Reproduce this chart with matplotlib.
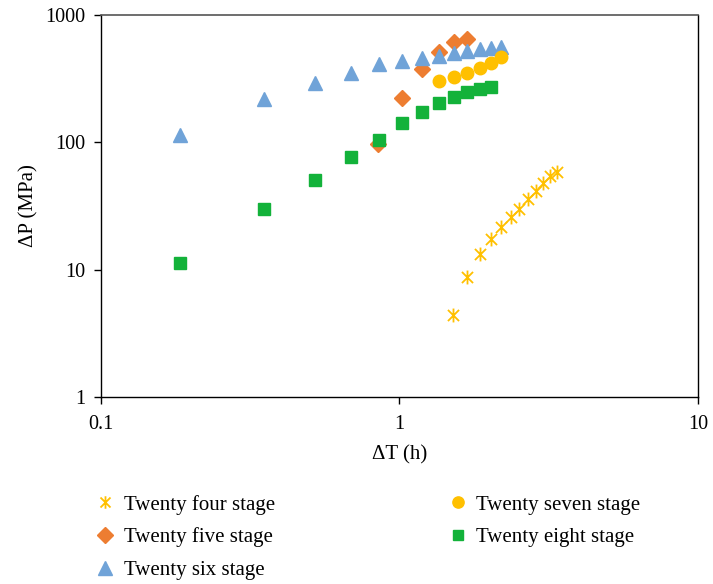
import matplotlib
matplotlib.use('Agg')
import matplotlib.pyplot as plt
from matplotlib.path import Path

plt.rcParams['font.family'] = ['Liberation Serif', 'DejaVu Serif']

# data (dT in hours, dP in MPa)
t24 = [1.51, 1.69, 1.86, 2.03, 2.19, 2.36, 2.51, 2.69, 2.86, 3.03, 3.19, 3.37]
p24 = [4.4, 8.8, 13.2, 17.4, 21.6, 25.9, 30.0, 35.9, 41.5, 48.0, 54.5, 58.0]

t25 = [0.85, 1.02, 1.19, 1.36, 1.52, 1.68]
p25 = [97, 222, 375, 515, 610, 650]

t26 = [0.184, 0.352, 0.521, 0.689, 0.854, 1.02, 1.19, 1.36, 1.52, 1.68, 1.86, 2.03, 2.19]
p26 = [114, 219, 290, 350, 410, 432, 455, 475, 500, 520, 540, 550, 560]

t27 = [1.36, 1.52, 1.68, 1.86, 2.03, 2.19]
p27 = [302, 325, 350, 383, 420, 465]

t28 = [0.184, 0.352, 0.521, 0.689, 0.854, 1.02, 1.19, 1.36, 1.52, 1.68, 1.86, 2.03]
p28 = [11.2, 30, 50.5, 76.5, 105, 142, 173, 203, 228, 248, 262, 270]

# Excel-style star: vertical bar plus an X
star = Path([(0, -1), (0, 1), (-0.8, -0.8), (0.8, 0.8), (-0.8, 0.8), (0.8, -0.8)],
            [Path.MOVETO, Path.LINETO, Path.MOVETO, Path.LINETO, Path.MOVETO, Path.LINETO])

fig = plt.figure(figsize=(7.13, 5.84), dpi=100)
ax = fig.add_axes([0.1415, 0.3202, 0.8375, 0.6543])

ax.plot(t24, p24, linestyle='none', marker=star, markersize=10, markerfacecolor='none',
        markeredgecolor='#FFC000', markeredgewidth=1.3, label='Twenty four stage')
ax.plot(t25, p25, linestyle='none', marker='D', markersize=8.5, color='#ED7D31',
        label='Twenty five stage')
ax.plot(t26, p26, linestyle='none', marker='^', markersize=10.5, color='#70A3D8',
        label='Twenty six stage')
ax.plot(t27, p27, linestyle='none', marker='o', markersize=9, color='#FFC000',
        label='Twenty seven stage')
ax.plot(t28, p28, linestyle='none', marker='s', markersize=8.5, color='#13B23A',
        label='Twenty eight stage')

ax.set_xscale('log')
ax.set_yscale('log')
ax.set_xlim(0.1, 10)
ax.set_ylim(1, 1000)
ax.set_xticks([0.1, 1, 10])
ax.set_xticklabels(['0.1', '1', '10'])
ax.set_yticks([1, 10, 100, 1000])
ax.set_yticklabels(['1', '10', '100', '1000'])
ax.minorticks_off()
ax.tick_params(labelsize=14.5, length=5, width=1, direction='out', pad=6)
ax.tick_params(axis='x', pad=8)

for side in ['left', 'bottom', 'right']:
    ax.spines[side].set_color('black')
    ax.spines[side].set_linewidth(1)
ax.spines['top'].set_color('#555555')
ax.spines['top'].set_linewidth(1.2)

ax.set_xlabel('ΔT (h)', fontsize=15, labelpad=8)
ax.set_ylabel('ΔP (MPa)', fontsize=15, labelpad=5)

# legend below, column-major order like the reference
fig.legend(loc='upper left', bbox_to_anchor=(0.107, 0.185), ncol=2, frameon=False,
           fontsize=15, handletextpad=0.4, columnspacing=8.25, labelspacing=0.62,
           handlelength=1.0, markerscale=0.9)

fig.savefig('out.png', dpi=100)
